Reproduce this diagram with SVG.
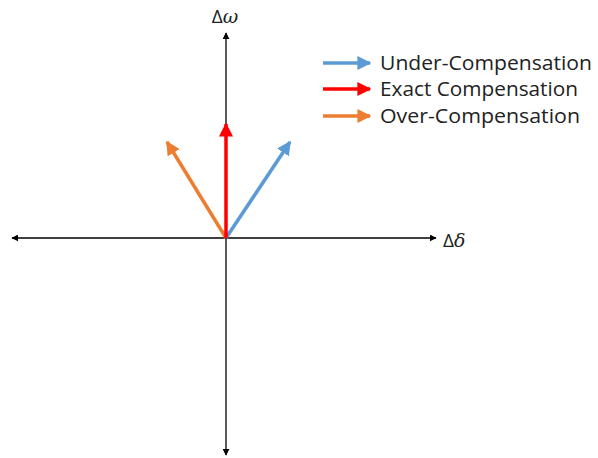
<svg xmlns="http://www.w3.org/2000/svg" width="598" height="458" viewBox="0 0 598 458">
<style>
.axis{stroke:#000;stroke-width:1.3;fill:none}
.lbl{font-family:"Open Sans","Liberation Sans",sans-serif;font-size:20px;fill:#222}
.ax{font-family:"Open Sans","Liberation Sans",sans-serif;font-size:19px;fill:#222}
.math{font-family:"DejaVu Serif","Liberation Serif",serif;font-style:italic}
.v{stroke-width:3.5;fill:none}
</style>
<defs>
<marker id="ah" viewBox="0 0 10 10" refX="9" refY="5" markerWidth="7" markerHeight="7" markerUnits="userSpaceOnUse" orient="auto"><path d="M0,0 L10,5 L0,10 z" fill="#000"/></marker>
<marker id="hb" viewBox="0 0 10 10" refX="9" refY="5" markerWidth="4" markerHeight="4" orient="auto"><path d="M0,0 L10,5 L0,10 z" fill="#5B9BD5"/></marker>
<marker id="hr" viewBox="0 0 10 10" refX="9" refY="5" markerWidth="4" markerHeight="4" orient="auto"><path d="M0,0 L10,5 L0,10 z" fill="#FF0000"/></marker>
<marker id="ho" viewBox="0 0 10 10" refX="9" refY="5" markerWidth="4" markerHeight="4" orient="auto"><path d="M0,0 L10,5 L0,10 z" fill="#ED7D31"/></marker>
</defs>
<g id="connectors">
<line class="axis" x1="226" y1="238" x2="226" y2="33" marker-end="url(#ah)"/>
<line class="axis" x1="226" y1="238" x2="226" y2="455" marker-end="url(#ah)"/>
<line class="axis" x1="226" y1="238" x2="12" y2="238" marker-end="url(#ah)"/>
<line class="axis" x1="226" y1="238" x2="436" y2="238" marker-end="url(#ah)"/>
<line class="v" stroke="#ED7D31" x1="226" y1="238" x2="167" y2="142" marker-end="url(#ho)"/>
<line class="v" stroke="#5B9BD5" x1="226" y1="238" x2="290" y2="142" marker-end="url(#hb)"/>
<line class="v" stroke="#FF0000" x1="226" y1="238" x2="226" y2="124" marker-end="url(#hr)"/>
</g>
<g id="axis-labels">
<text class="ax" x="225" y="23" text-anchor="middle">Δ<tspan class="math">ω</tspan></text>
<text class="ax" x="443" y="247">Δ<tspan class="math">δ</tspan></text>
</g>
<g id="legend">
<line class="v" stroke="#5B9BD5" x1="323" y1="63" x2="370" y2="63" marker-end="url(#hb)"/>
<line class="v" stroke="#FF0000" x1="323" y1="89" x2="370" y2="89" marker-end="url(#hr)"/>
<line class="v" stroke="#ED7D31" x1="323" y1="116" x2="370" y2="116" marker-end="url(#ho)"/>
<text class="lbl" x="380" y="70" textLength="212" lengthAdjust="spacingAndGlyphs">Under-Compensation</text>
<text class="lbl" x="380" y="96" textLength="198" lengthAdjust="spacingAndGlyphs">Exact Compensation</text>
<text class="lbl" x="380" y="123" textLength="200" lengthAdjust="spacingAndGlyphs">Over-Compensation</text>
</g>
</svg>
